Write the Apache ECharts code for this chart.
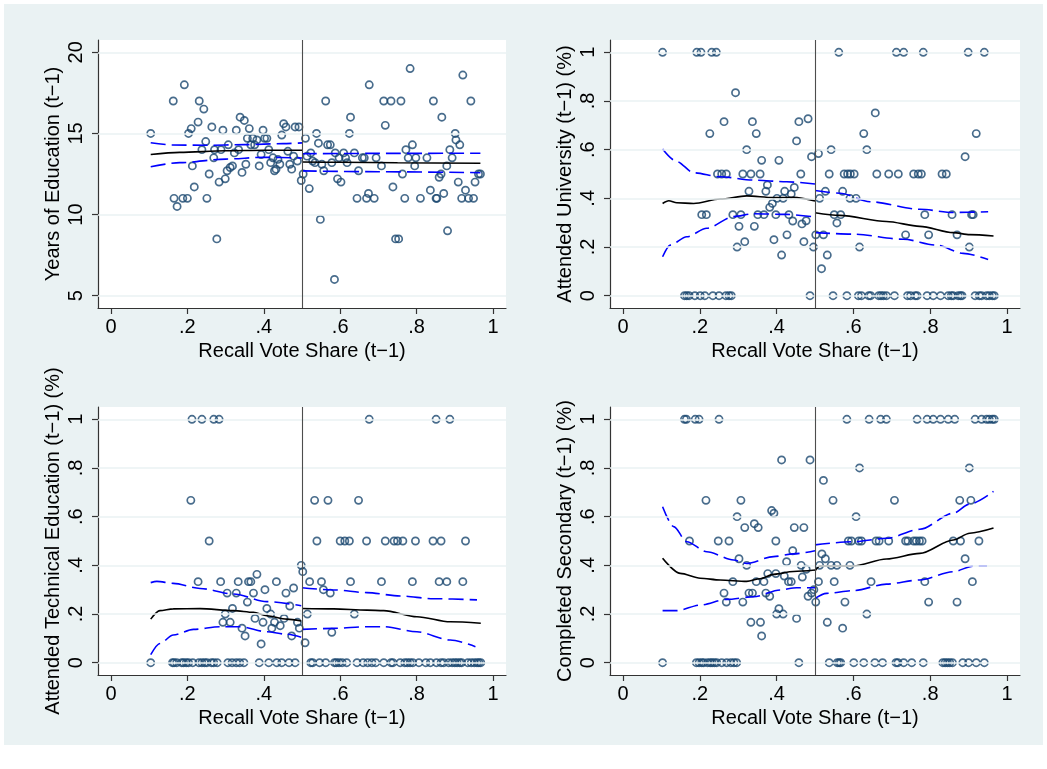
<!DOCTYPE html>
<html><head><meta charset="utf-8">
<script src="https://cdn.jsdelivr.net/npm/echarts@6/dist/echarts.min.js"></script>
<style>
html,body{margin:0;padding:0;background:#fff;}
#bg{position:absolute;left:4px;top:4px;width:1039px;height:741px;background:#EAF2F3;}
#chart{position:absolute;left:0;top:0;width:1047px;height:769px;}
</style></head><body>
<div id="bg"></div><div id="chart"></div>
<script>
// ---------- tick labels / titles ----------
const xTitle = "Recall Vote Share (t\u22121)";
const yTitles = ["Years of Education (t\u22121)", "Attended University (t\u22121) (%)",
  "Attended Technical Education (t\u22121) (%)", "Completed Secondary (t\u22121) (%)"];
const xTicks = [0, 0.2, 0.4, 0.6, 0.8, 1];
const xTickLabels = ["0", ".2", ".4", ".6", ".8", "1"];
const eduTicks = [5, 10, 15, 20];
const eduTickLabels = ["5", "10", "15", "20"];
const shareTicks = [0, 0.2, 0.4, 0.6, 0.8, 1];
const shareTickLabels = ["0", ".2", ".4", ".6", ".8", "1"];
const cutoff = 0.5;

// ---------- Panel 1: Years of education ----------
const p1Points = [[0.104,15.0],[0.163,17.0],[0.165,11.0],[0.173,10.5],[0.192,18.0],[0.188,11.0],[0.200,11.0],[0.203,15.0],[0.210,15.3],[0.213,13.0],[0.218,11.7],[0.228,15.7],[0.231,17.0],[0.243,16.5],[0.238,14.0],[0.248,14.5],[0.251,11.0],[0.257,12.5],[0.264,15.4],[0.269,13.5],[0.271,14.0],[0.277,8.5],[0.283,12.0],[0.288,14.0],[0.293,15.2],[0.299,12.2],[0.304,12.7],[0.307,14.3],[0.312,12.9],[0.318,13.0],[0.323,13.8],[0.328,15.2],[0.334,14.0],[0.338,16.0],[0.343,12.6],[0.349,15.8],[0.353,13.1],[0.357,14.7],[0.362,15.3],[0.366,14.3],[0.371,14.7],[0.376,14.3],[0.382,14.6],[0.388,13.0],[0.393,13.7],[0.398,15.2],[0.402,14.7],[0.408,14.7],[0.413,14.0],[0.418,13.2],[0.424,13.5],[0.428,12.7],[0.432,12.8],[0.437,13.4],[0.442,13.1],[0.447,14.9],[0.452,15.6],[0.458,15.4],[0.463,13.9],[0.468,13.1],[0.473,12.8],[0.478,13.6],[0.482,15.4],[0.488,13.3],[0.492,15.4],[0.498,12.1],[0.503,12.5],[0.509,14.7],[0.513,13.6],[0.519,11.6],[0.523,13.8],[0.528,13.3],[0.534,13.2],[0.538,15.0],[0.543,14.4],[0.548,9.7],[0.552,13.1],[0.557,12.7],[0.562,17.0],[0.567,14.3],[0.574,14.3],[0.578,13.2],[0.585,6.0],[0.587,13.8],[0.593,12.2],[0.597,13.5],[0.602,12.0],[0.609,13.8],[0.614,13.5],[0.618,13.2],[0.624,15.0],[0.627,16.0],[0.637,13.8],[0.644,11.0],[0.648,12.7],[0.658,13.5],[0.663,13.5],[0.669,11.0],[0.674,11.3],[0.676,18.0],[0.689,11.0],[0.694,13.5],[0.708,13.0],[0.714,17.0],[0.718,15.5],[0.733,17.0],[0.738,11.7],[0.745,8.5],[0.753,8.5],[0.759,17.0],[0.763,12.5],[0.769,11.0],[0.772,14.0],[0.778,13.5],[0.783,19.0],[0.789,14.3],[0.795,13.0],[0.798,13.5],[0.810,11.0],[0.827,13.5],[0.836,11.5],[0.844,17.0],[0.851,11.0],[0.853,11.0],[0.859,12.3],[0.864,12.5],[0.866,16.0],[0.871,11.3],[0.879,13.0],[0.881,9.0],[0.887,14.0],[0.893,13.5],[0.901,15.0],[0.903,14.6],[0.909,12.0],[0.913,14.3],[0.918,11.0],[0.921,18.6],[0.928,11.5],[0.936,11.0],[0.942,17.0],[0.949,11.0],[0.953,12.0],[0.962,12.5],[0.967,12.5]];
const p1FitL = [[0.104,13.70],[0.18,13.83],[0.30,13.93],[0.40,13.96],[0.50,13.96]];
const p1UpL  = [[0.104,14.43],[0.16,14.29],[0.25,14.27],[0.35,14.31],[0.45,14.37],[0.50,14.42]];
const p1LoL  = [[0.104,12.95],[0.18,13.20],[0.30,13.42],[0.40,13.53],[0.50,13.49]];
const p1FitR = [[0.50,13.24],[0.60,13.22],[0.75,13.19],[0.967,13.16]];
const p1UpR  = [[0.50,13.75],[0.70,13.77],[0.967,13.78]];
const p1LoR  = [[0.50,12.69],[0.70,12.64],[0.967,12.58]];

// ---------- Panel 2: Attended university ----------
const p2Points = [[0.103,1],[0.192,1],[0.203,1],[0.231,1],[0.243,1],[0.562,1],[0.712,1],[0.731,1],[0.782,1],[0.899,1],[0.941,1],
[0.293,0.834],[0.263,0.715],[0.337,0.715],[0.458,0.715],[0.482,0.727],[0.657,0.751],[0.226,0.666],[0.347,0.666],[0.627,0.666],[0.920,0.666],[0.452,0.636],[0.322,0.600],[0.542,0.600],[0.635,0.600],[0.491,0.571],[0.509,0.584],[0.891,0.571],[0.361,0.556],[0.406,0.556],
[0.246,0.5],[0.257,0.5],[0.269,0.5],[0.312,0.5],[0.333,0.5],[0.357,0.5],[0.463,0.5],[0.537,0.5],[0.576,0.5],[0.585,0.5],[0.592,0.5],[0.602,0.5],[0.661,0.5],[0.692,0.5],[0.717,0.5],[0.757,0.5],[0.769,0.5],[0.777,0.5],[0.831,0.5],[0.842,0.5],
[0.376,0.455],[0.372,0.429],[0.328,0.429],[0.421,0.429],[0.446,0.445],[0.438,0.418],[0.527,0.429],[0.572,0.429],[0.382,0.363],[0.389,0.379],[0.401,0.400],[0.417,0.400],[0.512,0.400],[0.591,0.400],[0.607,0.400],
[0.205,0.333],[0.217,0.333],[0.286,0.333],[0.307,0.333],[0.351,0.333],[0.367,0.333],[0.398,0.333],[0.432,0.333],[0.550,0.333],[0.567,0.333],[0.786,0.333],[0.857,0.333],[0.908,0.333],[0.912,0.333],
[0.442,0.307],[0.477,0.308],[0.466,0.295],[0.557,0.299],[0.302,0.285],[0.342,0.285],
[0.427,0.25],[0.502,0.25],[0.522,0.25],[0.736,0.25],[0.796,0.25],[0.870,0.25],
[0.317,0.222],[0.393,0.230],[0.471,0.222],[0.297,0.2],[0.496,0.2],[0.616,0.2],[0.902,0.2],[0.413,0.167],[0.532,0.167],[0.517,0.111],
[0.160,0],[0.166,0],[0.172,0],[0.187,0],[0.201,0],[0.213,0],[0.234,0],[0.250,0],[0.268,0],[0.276,0],[0.282,0],[0.487,0],[0.547,0],[0.583,0],[0.613,0],[0.621,0],[0.640,0],[0.645,0],[0.666,0],[0.672,0],[0.678,0],[0.686,0],[0.707,0],[0.741,0],[0.749,0],[0.761,0],[0.766,0],[0.792,0],[0.808,0],[0.827,0],[0.847,0],[0.855,0],[0.860,0],[0.873,0],[0.879,0],[0.883,0],[0.917,0],[0.928,0],[0.934,0],[0.947,0],[0.954,0],[0.962,0],[0.967,0]];
const p2FitL = [[0.103,0.379],[0.119,0.390],[0.140,0.382],[0.184,0.379],[0.253,0.397],[0.322,0.410],[0.392,0.403],[0.444,0.404],[0.500,0.389]];
const p2UpL  = [[0.103,0.603],[0.140,0.551],[0.184,0.505],[0.253,0.489],[0.340,0.475],[0.426,0.468],[0.500,0.459]];
const p2LoL  = [[0.103,0.160],[0.123,0.208],[0.166,0.242],[0.218,0.277],[0.288,0.325],[0.340,0.337],[0.426,0.334],[0.500,0.323]];
const p2FitR = [[0.500,0.341],[0.565,0.330],[0.686,0.305],[0.773,0.285],[0.860,0.259],[0.903,0.251],[0.965,0.245]];
const p2UpR  = [[0.500,0.432],[0.565,0.421],[0.643,0.386],[0.773,0.355],[0.860,0.342],[0.951,0.345]];
const p2LoR  = [[0.500,0.259],[0.600,0.253],[0.730,0.232],[0.816,0.208],[0.886,0.174],[0.951,0.149]];

// ---------- Panel 3: Attended technical education ----------
const p3Points = [[0.212,1],[0.238,1],[0.269,1],[0.283,1],[0.676,1],[0.851,1],[0.887,1],
[0.209,0.667],[0.257,0.5],[0.533,0.667],[0.568,0.667],[0.648,0.667],
[0.539,0.5],[0.600,0.5],[0.612,0.5],[0.624,0.5],[0.669,0.5],[0.718,0.5],[0.741,0.5],[0.750,0.5],[0.764,0.5],[0.797,0.5],[0.843,0.5],[0.864,0.5],[0.928,0.5],
[0.498,0.400],[0.502,0.374],[0.382,0.363],
[0.228,0.333],[0.287,0.333],[0.333,0.333],[0.360,0.333],[0.366,0.333],[0.433,0.333],[0.520,0.333],[0.551,0.333],[0.627,0.333],[0.708,0.333],[0.789,0.333],[0.859,0.333],[0.879,0.333],[0.921,0.333],
[0.478,0.307],[0.458,0.286],[0.304,0.286],[0.328,0.286],[0.373,0.286],[0.403,0.300],[0.556,0.300],[0.574,0.286],[0.357,0.249],[0.468,0.233],[0.318,0.223],[0.408,0.223],[0.299,0.2],[0.418,0.2],[0.514,0.2],[0.637,0.2],
[0.293,0.166],[0.312,0.166],[0.398,0.166],[0.428,0.166],[0.488,0.166],[0.377,0.182],[0.453,0.182],[0.343,0.142],[0.421,0.142],[0.443,0.152],[0.493,0.142],[0.351,0.110],[0.473,0.110],[0.393,0.077],[0.508,0.082],[0.578,0.125],
[0.104,0],[0.161,0],[0.165,0],[0.172,0],[0.185,0],[0.190,0],[0.197,0],[0.203,0],[0.214,0],[0.230,0],[0.238,0],[0.245,0],[0.251,0],[0.263,0],[0.269,0],[0.278,0],[0.306,0],[0.317,0],[0.328,0],[0.337,0],[0.348,0],[0.388,0],[0.413,0],[0.434,0],[0.447,0],[0.466,0],[0.482,0],[0.523,0],[0.528,0],[0.546,0],[0.562,0],[0.585,0],[0.590,0],[0.597,0],[0.605,0],[0.617,0],[0.644,0],[0.660,0],[0.672,0],[0.683,0],[0.693,0],[0.714,0],[0.733,0],[0.738,0],[0.757,0],[0.769,0],[0.776,0],[0.783,0],[0.790,0],[0.806,0],[0.824,0],[0.836,0],[0.852,0],[0.864,0],[0.871,0],[0.884,0],[0.893,0],[0.900,0],[0.906,0],[0.913,0],[0.918,0],[0.934,0],[0.943,0],[0.951,0],[0.958,0],[0.963,0],[0.968,0]];
const p3FitL = [[0.104,0.179],[0.128,0.214],[0.163,0.221],[0.233,0.222],[0.321,0.214],[0.373,0.207],[0.408,0.193],[0.460,0.179],[0.498,0.171]];
const p3UpL  = [[0.104,0.329],[0.120,0.334],[0.163,0.326],[0.233,0.305],[0.321,0.282],[0.408,0.251],[0.498,0.234]];
const p3LoL  = [[0.104,0.033],[0.128,0.079],[0.163,0.114],[0.216,0.137],[0.286,0.148],[0.338,0.148],[0.408,0.127],[0.460,0.117],[0.498,0.105]];
const p3FitR = [[0.500,0.223],[0.583,0.221],[0.670,0.216],[0.714,0.214],[0.801,0.189],[0.888,0.168],[0.968,0.162]];
const p3UpR  = [[0.500,0.308],[0.583,0.299],[0.670,0.288],[0.757,0.274],[0.845,0.263],[0.958,0.258]];
const p3LoR  = [[0.500,0.137],[0.583,0.141],[0.670,0.148],[0.714,0.148],[0.801,0.127],[0.888,0.093],[0.954,0.066]];

// ---------- Panel 4: Completed secondary ----------
const p4Points = [[0.160,1],[0.165,1],[0.188,1],[0.198,1],[0.250,1],[0.583,1],[0.641,1],[0.671,1],[0.686,1],[0.766,1],[0.792,1],[0.808,1],[0.827,1],[0.847,1],[0.864,1],[0.917,1],[0.934,1],[0.947,1],[0.954,1],[0.962,1],[0.967,1],
[0.413,0.833],[0.487,0.833],[0.616,0.800],[0.902,0.800],[0.522,0.749],[0.216,0.667],[0.307,0.667],[0.547,0.667],[0.707,0.667],[0.877,0.667],[0.906,0.667],
[0.387,0.625],[0.393,0.614],[0.297,0.600],[0.607,0.600],[0.342,0.571],[0.317,0.555],[0.352,0.555],[0.446,0.555],[0.471,0.555],
[0.173,0.5],[0.248,0.5],[0.276,0.5],[0.398,0.5],[0.587,0.5],[0.595,0.5],[0.614,0.5],[0.621,0.5],[0.659,0.5],[0.667,0.5],[0.692,0.5],[0.736,0.5],[0.742,0.5],[0.757,0.5],[0.764,0.5],[0.772,0.5],[0.779,0.5],[0.860,0.5],[0.879,0.5],[0.927,0.5],
[0.442,0.460],[0.891,0.427],[0.518,0.447],[0.527,0.427],[0.302,0.427],[0.426,0.415],[0.322,0.400],[0.464,0.400],[0.512,0.400],[0.542,0.400],[0.557,0.400],[0.591,0.400],[0.477,0.384],[0.398,0.366],[0.377,0.366],[0.420,0.356],[0.467,0.352],
[0.286,0.333],[0.347,0.333],[0.367,0.333],[0.431,0.333],[0.438,0.333],[0.509,0.333],[0.550,0.333],[0.646,0.333],[0.786,0.333],[0.910,0.333],
[0.263,0.286],[0.328,0.286],[0.337,0.286],[0.372,0.286],[0.382,0.273],[0.497,0.300],[0.491,0.286],[0.482,0.273],
[0.269,0.249],[0.312,0.249],[0.502,0.249],[0.578,0.249],[0.796,0.249],[0.870,0.249],
[0.406,0.222],[0.400,0.200],[0.417,0.200],[0.635,0.200],[0.452,0.182],[0.333,0.166],[0.358,0.166],[0.532,0.166],[0.572,0.142],[0.361,0.110],
[0.103,0],[0.191,0],[0.198,0],[0.205,0],[0.210,0],[0.220,0],[0.227,0],[0.232,0],[0.238,0],[0.244,0],[0.257,0],[0.270,0],[0.281,0],[0.289,0],[0.296,0],[0.458,0],[0.537,0],[0.558,0],[0.563,0],[0.567,0],[0.601,0],[0.627,0],[0.656,0],[0.676,0],[0.711,0],[0.716,0],[0.731,0],[0.752,0],[0.782,0],[0.833,0],[0.839,0],[0.845,0],[0.851,0],[0.858,0],[0.885,0],[0.900,0],[0.920,0],[0.941,0]];
const p4FitL = [[0.103,0.429],[0.149,0.367],[0.201,0.347],[0.253,0.340],[0.322,0.334],[0.357,0.345],[0.392,0.363],[0.444,0.375],[0.500,0.381]];
const p4UpL  = [[0.103,0.641],[0.132,0.559],[0.166,0.497],[0.218,0.456],[0.288,0.422],[0.322,0.408],[0.392,0.436],[0.444,0.447],[0.500,0.460]];
const p4LoL  = [[0.103,0.214],[0.140,0.214],[0.201,0.237],[0.270,0.260],[0.340,0.271],[0.409,0.299],[0.452,0.308],[0.500,0.308]];
const p4FitR = [[0.500,0.377],[0.513,0.397],[0.600,0.397],[0.686,0.426],[0.773,0.449],[0.860,0.504],[0.903,0.532],[0.965,0.553]];
const p4UpR  = [[0.500,0.484],[0.600,0.497],[0.686,0.511],[0.773,0.548],[0.860,0.614],[0.903,0.652],[0.965,0.704]];
const p4LoR  = [[0.500,0.264],[0.530,0.285],[0.600,0.296],[0.686,0.323],[0.773,0.340],[0.860,0.374],[0.912,0.397],[0.948,0.397]];

// ---------- build ----------
const FONT = 'Liberation Sans, Arial, sans-serif';
const FS = 20;
const panels = [
  {pts:p1Points, fits:[p1FitL,p1UpL,p1LoL,p1FitR,p1UpR,p1LoR], yMin:4.24, yMax:20.76, ticks:eduTicks, labels:eduTickLabels},
  {pts:p2Points, fits:[p2FitL,p2UpL,p2LoL,p2FitR,p2UpR,p2LoR], yMin:-0.0505, yMax:1.0505, ticks:shareTicks, labels:shareTickLabels},
  {pts:p3Points, fits:[p3FitL,p3UpL,p3LoL,p3FitR,p3UpR,p3LoR], yMin:-0.0505, yMax:1.0505, ticks:shareTicks, labels:shareTickLabels},
  {pts:p4Points, fits:[p4FitL,p4UpL,p4LoL,p4FitR,p4UpR,p4LoR], yMin:-0.0505, yMax:1.0505, ticks:shareTicks, labels:shareTickLabels}
];
const grids = [
  {left:98, top:40, width:408, height:268},
  {left:610, top:40, width:410, height:268},
  {left:98, top:407, width:408, height:268},
  {left:610, top:407, width:410, height:268}
];
const axisColor = '#333';
const xAxes = [], yAxes = [], series = [];
panels.forEach((p, i) => {
  xAxes.push({
    type:'value', gridIndex:i, min:-0.034, max:1.034,
    name:xTitle, nameLocation:'middle', nameGap:33,
    nameTextStyle:{fontFamily:FONT, fontSize:FS, color:'#000'},
    axisLine:{show:true, onZero:false, lineStyle:{color:axisColor, width:1.2}},
    axisTick:{show:true, length:6, customValues:xTicks, lineStyle:{color:axisColor, width:1.2}},
    axisLabel:{show:true, margin:9, customValues:xTicks, fontFamily:FONT, fontSize:FS, color:'#000',
      formatter:v => xTickLabels[xTicks.findIndex(t => Math.abs(t - v) < 1e-6)] ?? ''},
    splitLine:{show:false}
  });
  yAxes.push({
    type:'value', gridIndex:i, min:p.yMin, max:p.yMax,
    name:yTitles[i], nameLocation:'middle', nameGap:35, nameRotate:90,
    nameTextStyle:{fontFamily:FONT, fontSize:FS, color:'#000'},
    axisLine:{show:true, onZero:false, lineStyle:{color:axisColor, width:1.2}},
    axisTick:{show:true, length:6, customValues:p.ticks, lineStyle:{color:axisColor, width:1.2}},
    axisLabel:{show:true, rotate:90, margin:12, customValues:p.ticks, fontFamily:FONT, fontSize:FS, color:'#000',
      formatter:v => p.labels[p.ticks.findIndex(t => Math.abs(t - v) < 1e-6)] ?? ''},
    splitLine:{show:false}
  });
  // grid lines at major ticks
  series.push({
    type:'line', xAxisIndex:i, yAxisIndex:i, data:[], silent:true,
    markLine:{silent:true, symbol:'none', label:{show:false},
      lineStyle:{color:'#EAF2F3', width:1.5, type:'solid'},
      data:p.ticks.map(t => ({yAxis:t}))}
  });
  series.push({
    type:'scatter', xAxisIndex:i, yAxisIndex:i, data:p.pts, symbol:'circle', symbolSize:7.2,
    itemStyle:{color:'rgba(255,255,255,0)', borderColor:'#1a476f', borderWidth:1.7},
    markLine:{silent:true, symbol:'none', label:{show:false},
      lineStyle:{color:'#4d4d4d', width:1.1, type:'solid'}, data:[{xAxis:cutoff}]}
  });
  p.fits.forEach((f, k) => {
    const isFit = (k % 3) === 0;
    series.push({
      type:'line', xAxisIndex:i, yAxisIndex:i, data:f, showSymbol:false, symbol:'none',
      smooth:0.3, smoothMonotone:'x', silent:true,
      lineStyle: isFit ? {color:'#000', width:1.6} : {color:'#0000ff', width:1.6, type:[15,6]}
    });
  });
});
const chart = echarts.init(document.getElementById('chart'), null, {renderer:'canvas'});
chart.setOption({
  animation:false,
  backgroundColor:'transparent',
  grid:grids.map(g => Object.assign({show:true, backgroundColor:'#fff', borderWidth:0, containLabel:false}, g)),
  xAxis:xAxes, yAxis:yAxes, series:series
});
</script></body></html>
